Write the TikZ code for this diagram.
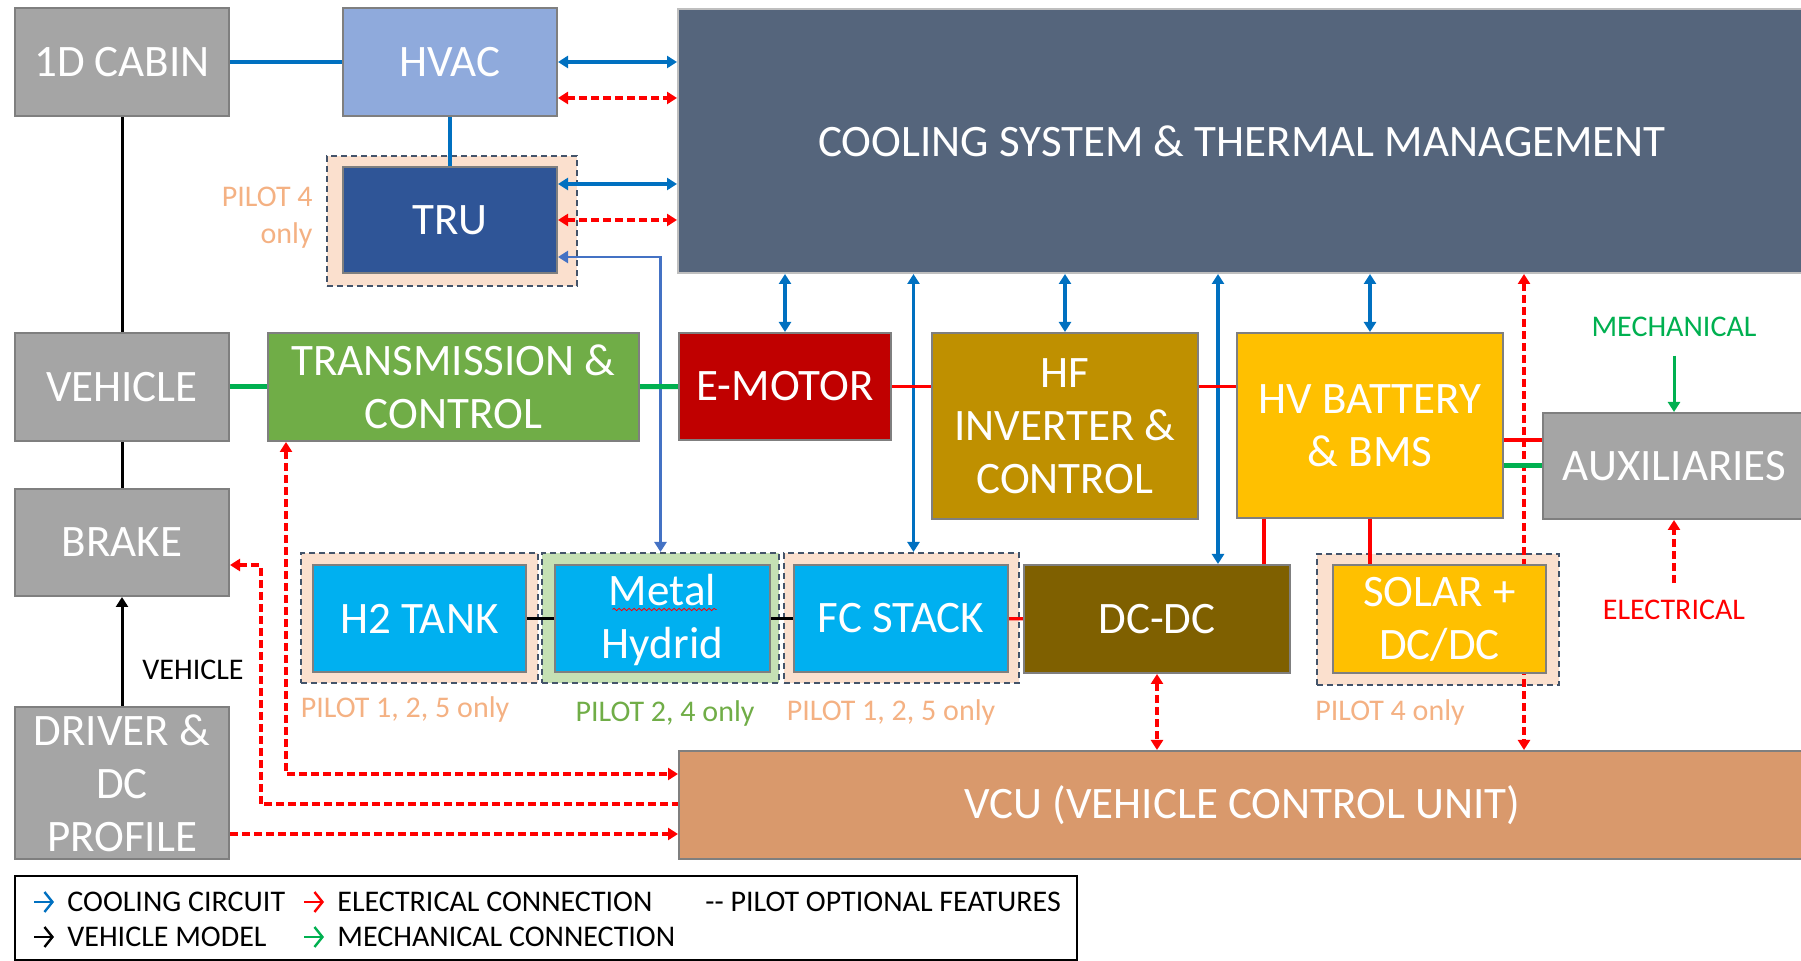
\documentclass[tikz,border=0pt]{standalone}
\usepackage{fontspec}
\setmainfont{Carlito}
\usetikzlibrary{arrows.meta,calc,fit,decorations.pathmorphing}
\pgfdeclarelayer{frames}
\pgfdeclarelayer{wires}
\pgfsetlayers{frames,wires,main}

\definecolor{boxgray}{HTML}{A5A5A5}
\definecolor{hvacblue}{HTML}{8FAADC}
\definecolor{trublue}{HTML}{2F5597}
\definecolor{coolslate}{HTML}{55657C}
\definecolor{transgreen}{HTML}{70AD47}
\definecolor{motorred}{HTML}{C00000}
\definecolor{invgold}{HTML}{BF9000}
\definecolor{battyellow}{HTML}{FFC000}
\definecolor{dcbrown}{HTML}{7F6000}
\definecolor{h2cyan}{HTML}{00B0F0}
\definecolor{vcuorange}{HTML}{D9996C}
\definecolor{peach}{HTML}{FBE0CE}
\definecolor{mint}{HTML}{C5E0B4}
\definecolor{frameblue}{HTML}{44546A}
\definecolor{pilotpeach}{HTML}{F4B183}
\definecolor{pilotgreen}{HTML}{70AD47}
\definecolor{coolline}{HTML}{0070C0}
\definecolor{lightline}{HTML}{4472C4}
\definecolor{elecred}{HTML}{FF0000}
\definecolor{mechgreen}{HTML}{00B050}
\definecolor{edgegray}{HTML}{7F7F7F}

\newcommand\blkfont{\fontsize{22.5}{26.5}\selectfont}
\newcommand\lblfont{\fontsize{15}{18.5}\selectfont}

\tikzset{
  Tri/.tip={Triangle[length=5pt,width=6pt]},
  blk/.style={draw=edgegray, line width=1pt, inner sep=0pt},
  blktext/.style={inner sep=0pt, text=white, font=\blkfont, align=center},
  frm/.style={draw=frameblue, line width=1pt, dash pattern=on 3pt off 2pt,
              inner sep=0pt},
  lbl/.style={inner sep=0pt, font=\lblfont},
  coolln/.style={draw=coolline, line width=1.7pt},
  cooldbl/.style={coolln, Tri-Tri},
  lightdbl/.style={draw=lightline, line width=1.4pt, Tri-Tri},
  elecln/.style={draw=elecred, line width=1.7pt},
  elecdash/.style={draw=elecred, line width=2pt, dash pattern=on 4pt off 2pt},
  elecdbl/.style={elecdash, Tri-Tri},
  mechln/.style={draw=mechgreen, line width=2.5pt},
  vehln/.style={draw=black, line width=1.5pt},
  legarrow/.style={line width=1.2pt, -{Straight Barb[length=4pt,width=10pt]}}
}

\begin{document}
\begin{tikzpicture}[x=0.5pt, y=-0.5pt]
\useasboundingbox (0,0) rectangle (1801,961);
\clip (0,0) rectangle (1801,961);

% optional-feature frames
\begin{pgfonlayer}{frames}
  \node[frm, fill=peach, fit={(327,156)(577,286)}] (truframe) {};
  \node[frm, fill=peach, fit={(301,553)(538,683)}] (h2frame) {};
  \node[frm, fill=mint,  fit={(542,553)(779,683)}] (mframe) {};
  \node[frm, fill=peach, fit={(784,553)(1019,683)}] (fcframe) {};
  \node[frm, fill=peach, fit={(1317,554)(1559,685)}] (solarframe) {};
\end{pgfonlayer}

% blocks
\node[blk, fill=boxgray, fit={(15,8)(229,116)},
      label={[blktext]center:{1D CABIN}}] (cabin) {};
\node[blk, fill=hvacblue, fit={(343,8)(557,116)},
      label={[blktext]center:{HVAC}}] (hvac) {};
\node[blk, fill=coolslate, draw=gray!50, fit={(678,9)(1806,273)},
      label={[blktext]center:{COOLING SYSTEM \& THERMAL MANAGEMENT}}] (cool) {};
\node[blk, fill=trublue, fit={(343,167)(557,273)},
      label={[blktext]center:{TRU}}] (tru) {};
\node[blk, fill=boxgray, fit={(15,333)(229,441)},
      label={[blktext]center:{VEHICLE}}] (vehicle) {};
\node[blk, fill=transgreen, fit={(268,333)(639,441)},
      label={[blktext]center:{TRANSMISSION \&\\CONTROL}}] (trans) {};
\node[blk, fill=motorred, fit={(679,333)(891,440)},
      label={[blktext]center:{E-MOTOR}}] (emotor) {};
\node[blk, fill=invgold, fit={(932,333)(1198,519)},
      label={[blktext]center:{HF\\INVERTER \&\\CONTROL}}] (hf) {};
\node[blk, fill=battyellow, fit={(1237,333)(1503,518)},
      label={[blktext]center:{HV BATTERY\\\& BMS}}] (hvb) {};
\node[blk, fill=boxgray, fit={(1543,413)(1806,519)},
      label={[blktext]center:{AUXILIARIES}}] (aux) {};
\node[blk, fill=boxgray, fit={(15,489)(229,596)},
      label={[blktext]center:{BRAKE}}] (brake) {};
\node[blk, fill=h2cyan, fit={(313,565)(526,672)},
      label={[blktext]center:{H2 TANK}}] (h2) {};
\node[blk, fill=h2cyan, fit={(555,565)(770,672)},
      label={[blktext, yshift=-1pt]center:{Metal\\Hydrid}}] (metal) {};
\node[blk, fill=h2cyan, fit={(794,565)(1008,672)},
      label={[blktext]center:{FC STACK}}] (fc) {};
\node[blk, fill=dcbrown, fit={(1024,565)(1290,673)},
      label={[blktext]center:{DC-DC}}] (dcdc) {};
\node[blk, fill=battyellow, fit={(1333,565)(1546,673)},
      label={[blktext]center:{SOLAR +\\DC/DC}}] (solar) {};
\node[blk, fill=boxgray, fit={(15,707)(229,859)},
      label={[blktext]center:{DRIVER \&\\DC\\PROFILE}}] (driver) {};
\node[blk, fill=vcuorange, fit={(679,751)(1806,859)},
      label={[blktext]center:{VCU (VEHICLE CONTROL UNIT)}}] (vcu) {};

% spell-check squiggle under "Metal"
\draw[elecred, line width=0.4pt, decorate,
      decoration={snake, amplitude=0.6pt, segment length=2.5pt}]
  ($(metal.center)+(-50,-9)$) -- ($(metal.center)+(54,-9)$);

% labels
\node[lbl, text=pilotpeach, anchor=east, align=right] (p4tru) at (313,218) {PILOT 4\\only};
\node[lbl, text=pilotpeach, anchor=base] (ph2) at (405,718) {PILOT 1, 2, 5 only};
\node[lbl, text=pilotgreen, anchor=base] (pmh) at (665,722) {PILOT 2, 4 only};
\node[lbl, text=pilotpeach, anchor=base] (pfc) at (891,721) {PILOT 1, 2, 5 only};
\node[lbl, text=pilotpeach, anchor=base] (psol) at (1390,721) {PILOT 4 only};
\node[lbl, anchor=base] (vehlbl) at (193,680) {VEHICLE};
\node[lbl, text=mechgreen, anchor=base] (mlab) at (1674,337) {MECHANICAL};
\node[lbl, text=elecred, anchor=base] (elab) at (1674,620) {ELECTRICAL};

% connectors
\begin{pgfonlayer}{wires}
  % cooling circuit
  \draw[coolln] (cabin) -- (hvac);
  \draw[coolln] (hvac) -- (tru);
  \draw[cooldbl] (hvac.east) -- (hvac.east -| cool.west);
  \draw[cooldbl] ($(tru.east)+(0,-36)$) coordinate (t1) -- (t1 -| cool.west);
  \draw[lightdbl] ($(tru.east)+(0,37)$) -| (mframe.north);
  \draw[cooldbl] (emotor.north) -- (emotor.north |- cool.south);
  \draw[cooldbl] ($(fcframe.north)+(12,0)$) coordinate (f1) -- (f1 |- cool.south);
  \draw[cooldbl] (hf.north) -- (hf.north |- cool.south);
  \draw[cooldbl] ($(dcdc.north)+(61,0)$) coordinate (d2) -- (d2 |- cool.south);
  \draw[cooldbl] (hvb.north) -- (hvb.north |- cool.south);

  % electrical connections
  \draw[elecln] (emotor.east) -- (emotor.east -| hf.west);
  \draw[elecln] (emotor.east -| hf.east) -- (emotor.east -| hvb.west);
  \draw[elecln] ($(hvb.east)+(0,14.5)$) coordinate (b1) -- (b1 -| aux.west);
  \draw[elecln] ($(hvb.south west)+(28,0)$) coordinate (b2) -- (b2 |- dcdc.north);
  \draw[elecln] (hvb.south) -- (hvb.south |- solar.north);
  \draw[elecln] (fc) -- (dcdc);

  % signal / optional links
  \draw[elecdbl] ($(hvac.east)+(0,36)$) coordinate (h1) -- (h1 -| cool.west);
  \draw[elecdbl] (tru.east) -- (tru.east -| cool.west);
  \coordinate (s1) at ($(solar.north east)+(-23,0)$);
  \draw[elecdbl] (s1 |- cool.south) -- (s1 |- vcu.north);
  \draw[elecdbl] (dcdc.south) -- (dcdc.south |- vcu.north);
  \draw[elecdbl] ($(trans.south west)+(19,0)$) |- ($(vcu.north west)+(0,24)$);
  \draw[elecdash, Tri-] ($(brake.east)+(0,22.5)$) -- ++(30.5,0) |- ($(vcu.north west)+(0,54)$);
  \draw[elecdash, -Tri] ($(driver.east)+(0,51)$) coordinate (dr1) -- (dr1 -| vcu.west);
  \draw[elecdash, -Tri] ($(elab.north)+(0,-17)$) coordinate (e1) -- (e1 |- aux.south);

  % mechanical connections
  \draw[mechln] (vehicle) -- (trans);
  \draw[mechln] (trans) -- (emotor);
  \draw[mechln] (aux.west -| hvb.east) -- (aux.west);
  \draw[draw=mechgreen, line width=1.5pt, -Tri] ($(mlab.south)+(0,18)$) coordinate (m1) -- (m1 |- aux.north);

  % vehicle model
  \draw[vehln] (cabin) -- (vehicle);
  \draw[vehln] (vehicle) -- (brake);
  \draw[vehln, -Tri] (driver) -- (brake);
  \draw[vehln] (h2) -- (metal);
  \draw[vehln] (metal) -- (fc);
\end{pgfonlayer}

% legend
\node[draw=black, line width=1pt, inner sep=0pt, fit={(15,876)(1077,960)}] (legend) {};
\node[lbl, anchor=base west] (lg1) at (67,912) {COOLING CIRCUIT};
\node[lbl, anchor=base west] (lg2) at (337,912) {ELECTRICAL CONNECTION};
\node[lbl, anchor=base west] (lg3) at (705,912) {-{}- PILOT OPTIONAL FEATURES};
\node[lbl, anchor=base west] (lg4) at (67,947) {VEHICLE MODEL};
\node[lbl, anchor=base west] (lg5) at (337,947) {MECHANICAL CONNECTION};
\draw[legarrow, coolline] ($(lg1.base west)+(-33,-10)$) -- ++(20,0);
\draw[legarrow, elecred] ($(lg2.base west)+(-33,-10)$) -- ++(20,0);
\draw[legarrow, black] ($(lg4.base west)+(-33,-10)$) -- ++(20,0);
\draw[legarrow, mechgreen] ($(lg5.base west)+(-33,-10)$) -- ++(20,0);
\end{tikzpicture}
\end{document}
